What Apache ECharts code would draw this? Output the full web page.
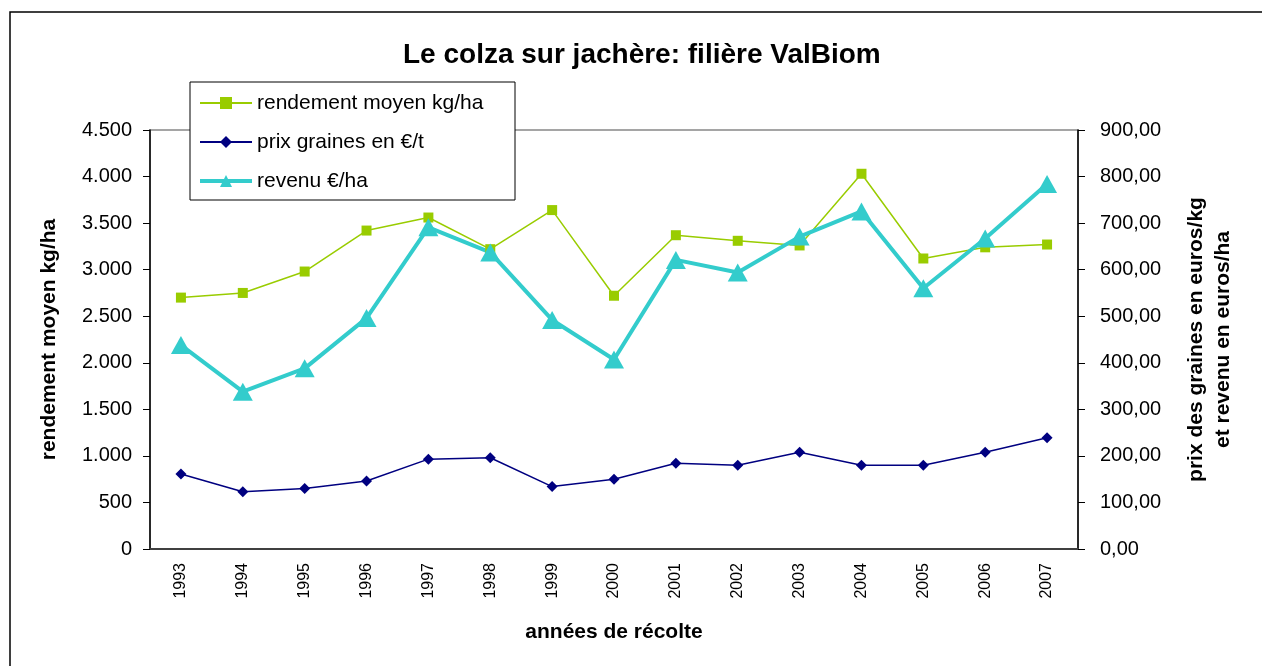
<!DOCTYPE html>
<html>
<head>
<meta charset="utf-8">
<script src="https://cdn.jsdelivr.net/npm/echarts@6/dist/echarts.min.js"></script>
<style>
  html, body { margin: 0; padding: 0; background: #fff; }
  #main { width: 1262px; height: 666px; }
</style>
</head>
<body>
<div id="main"></div>
<script>
// années de récolte
var years = ['1993', '1994', '1995', '1996', '1997', '1998', '1999', '2000',
             '2001', '2002', '2003', '2004', '2005', '2006', '2007'];
// rendement moyen kg/ha (axe gauche)
var rendement = [2700, 2750, 2980, 3420, 3560, 3220, 3640, 2720,
                 3370, 3310, 3260, 4030, 3120, 3240, 3270];
// prix graines en €/t (axe droit)
var prix = [161, 123, 130, 146, 193, 196, 134, 150,
            184, 180, 208, 180, 180, 208, 239];
// revenu €/ha (axe droit)
var revenu = [438, 338, 388, 496, 691, 637, 492, 407,
              621, 594, 671, 725, 560, 667, 784];

var myChart = echarts.init(document.getElementById('main'));
var fontFam = '"Liberation Sans", Arial, sans-serif';

var option = {
    animation: false,
    backgroundColor: '#fff',
    textStyle: { fontFamily: fontFam },
    title: {
        text: 'Le colza sur jachère: filière ValBiom',
        left: 398,
        top: 36,
        textStyle: { fontSize: 28, fontWeight: 'bold', color: '#000', fontFamily: fontFam }
    },
    graphic: [{
        type: 'rect',
        shape: { x: 10, y: 12, width: 1400, height: 800 },
        style: { fill: 'none', stroke: '#000', lineWidth: 1.5 },
        z: -1
    }],
    legend: {
        left: 190, top: 82,
        orient: 'vertical',
        padding: [9, 8, 7, 8],
        itemGap: 15,
        itemWidth: 52,
        itemHeight: 15,
        backgroundColor: '#fff',
        borderColor: '#000',
        borderWidth: 1,
        textStyle: { fontSize: 21, lineHeight: 24, width: 250, color: '#000', fontFamily: fontFam },
        data: [
            { name: 'rendement moyen kg/ha' },
            { name: 'prix graines en €/t' },
            { name: 'revenu €/ha', lineStyle: { width: 4 } }
        ]
    },
    grid: {
        left: 150, right: 184, top: 130, bottom: 117,
        show: true, borderColor: '#888', borderWidth: 1.5
    },
    xAxis: {
        type: 'category',
        data: years,
        boundaryGap: true,
        name: 'années de récolte',
        nameLocation: 'middle',
        nameGap: 73,
        nameTextStyle: { fontSize: 21, fontWeight: 'bold', color: '#000' },
        axisLine: { lineStyle: { color: '#404040', width: 2 } },
        axisTick: { show: false },
        axisLabel: { rotate: 90, fontSize: 16, color: '#000', margin: 14 }
    },
    yAxis: [{
        type: 'value',
        min: 0, max: 4500, interval: 500,
        position: 'left',
        name: 'rendement moyen kg/ha',
        nameLocation: 'middle',
        nameGap: 90,
        nameTextStyle: { fontSize: 21, fontWeight: 'bold', color: '#000' },
        axisLine: { show: true, lineStyle: { color: '#000', width: 1.5 } },
        axisTick: { show: true, length: 7, lineStyle: { color: '#000' } },
        splitLine: { show: false },
        axisLabel: {
            fontSize: 20, color: '#000', margin: 18,
            formatter: function (v) {
                return String(v).replace(/\B(?=(\d{3})+(?!\d))/g, '.');
            }
        }
    }, {
        type: 'value',
        min: 0, max: 900, interval: 100,
        position: 'right',
        name: 'prix des graines en euros/kg\net revenu en euros/ha',
        nameLocation: 'middle',
        nameGap: 105,
        nameRotate: 90,
        nameTextStyle: { fontSize: 21, fontWeight: 'bold', color: '#000', lineHeight: 27 },
        axisLine: { show: true, lineStyle: { color: '#000', width: 1.5 } },
        axisTick: { show: true, length: 7, lineStyle: { color: '#000' } },
        splitLine: { show: false },
        axisLabel: {
            fontSize: 20, color: '#000', margin: 22,
            formatter: function (v) { return v.toFixed(2).replace('.', ','); }
        }
    }],
    series: [{
        name: 'rendement moyen kg/ha',
        type: 'line',
        yAxisIndex: 0,
        data: rendement,
        symbol: 'rect',
        symbolSize: 10,
        color: '#99CC00',
        lineStyle: { width: 1.5, color: '#99CC00' },
        itemStyle: { color: '#99CC00' }
    }, {
        name: 'prix graines en €/t',
        type: 'line',
        yAxisIndex: 1,
        data: prix,
        symbol: 'diamond',
        symbolSize: 11,
        color: '#000080',
        lineStyle: { width: 1.5, color: '#000080' },
        itemStyle: { color: '#000080' }
    }, {
        name: 'revenu €/ha',
        type: 'line',
        yAxisIndex: 1,
        data: revenu,
        symbol: 'triangle',
        symbolSize: [20, 18],
        color: '#33CCCC',
        lineStyle: { width: 4, color: '#33CCCC' },
        itemStyle: { color: '#33CCCC' }
    }]
};

myChart.setOption(option);
</script>
</body>
</html>
